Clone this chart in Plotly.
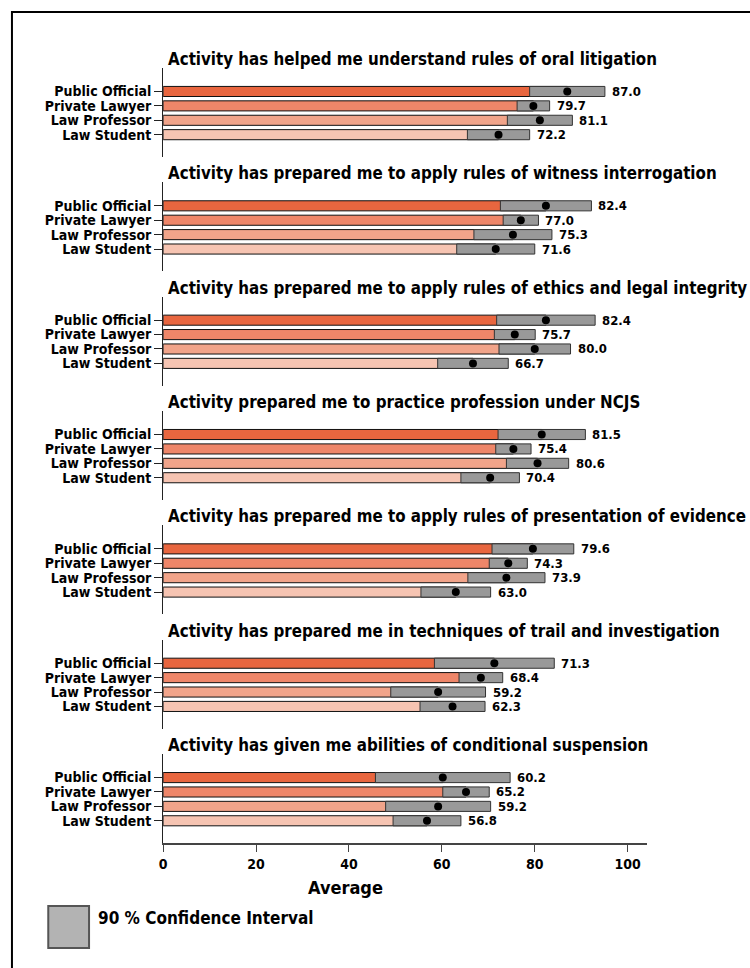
import plotly.graph_objects as go
from plotly.subplots import make_subplots

# Survey statements (one panel each)
questions = [
    "Activity has helped me understand rules of oral litigation",
    "Activity has prepared me to apply rules of witness interrogation",
    "Activity has prepared me to apply rules of ethics and legal integrity",
    "Activity prepared me to practice profession under NCJS",
    "Activity has prepared me to apply rules of presentation of evidence",
    "Activity has prepared me in techniques of trail and investigation",
    "Activity has given me abilities of conditional suspension",
]

groups = ["Public Official", "Private Lawyer", "Law Professor", "Law Student"]

# Average score per group, one value per statement
mean_public_official = [87.0, 82.4, 82.4, 81.5, 79.6, 71.3, 60.2]
mean_private_lawyer = [79.7, 77.0, 75.7, 75.4, 74.3, 68.4, 65.2]
mean_law_professor = [81.1, 75.3, 80.0, 80.6, 73.9, 59.2, 59.2]
mean_law_student = [72.2, 71.6, 66.7, 70.4, 63.0, 62.3, 56.8]

# Half-width of the 90 % confidence interval
ci_public_official = [8.1, 9.8, 10.6, 9.4, 8.8, 12.9, 14.5]
ci_private_lawyer = [3.5, 3.8, 4.4, 3.8, 4.1, 4.7, 5.0]
ci_law_professor = [7.0, 8.4, 7.7, 6.7, 8.3, 10.2, 11.3]
ci_law_student = [6.7, 8.4, 7.6, 6.3, 7.5, 7.0, 7.3]

x_ticks = [0, 20, 40, 60, 80, 100]

means = [mean_public_official, mean_private_lawyer, mean_law_professor, mean_law_student]
cis = [ci_public_official, ci_private_lawyer, ci_law_professor, ci_law_student]
colors = ["#E8663F", "#EE8669", "#F1A48A", "#F6C4B2"]

W, H = 750, 968
FONT = "DejaVu Sans Condensed, Liberation Sans Narrow, sans-serif"

n = len(questions)
fig = make_subplots(rows=n, cols=1)

# pixel layout helpers
x_left, x_right = 160, 646
panel_top0, panel_h, panel_step = 68, 89, 114.35


def px_x(p):
    return p / W


def px_y(p):
    return 1 - p / H


annotations = []
for i, q in enumerate(questions):
    row = i + 1
    m = [means[g][i] for g in range(4)]
    c = [cis[g][i] for g in range(4)]
    lo = [mv - cv for mv, cv in zip(m, c)]
    hi = [mv + cv for mv, cv in zip(m, c)]

    fig.add_trace(go.Bar(
        y=groups, x=m, orientation="h", width=0.7,
        marker=dict(color=colors, line=dict(color="#111111", width=1)),
        showlegend=False, hoverinfo="skip"), row=row, col=1)
    fig.add_trace(go.Bar(
        y=groups, x=[h - l for h, l in zip(hi, lo)], base=lo, orientation="h", width=0.7,
        marker=dict(color="#999999", line=dict(color="#333333", width=1)),
        showlegend=False, hoverinfo="skip"), row=row, col=1)
    fig.add_trace(go.Scatter(
        y=groups, x=m, mode="markers",
        marker=dict(color="black", size=8),
        showlegend=False, hoverinfo="skip"), row=row, col=1)

    xa = "x" if row == 1 else f"x{row}"
    ya = "y" if row == 1 else f"y{row}"
    for g in range(4):
        annotations.append(dict(
            x=hi[g], y=groups[g], xref=xa, yref=ya, text=f"{m[g]:.1f}",
            showarrow=False, xanchor="left", yanchor="middle", xshift=6,
            borderpad=0,
            font=dict(family=FONT, size=13, color="black", weight="bold")))

    top = panel_top0 + i * panel_step
    bottom = top + panel_h
    annotations.append(dict(
        x=px_x(164), y=px_y(top - 9), xref="paper", yref="paper", text=q,
        showarrow=False, xanchor="left", yanchor="middle", borderpad=0,
        font=dict(family=FONT, size=16.8, color="black", weight="bold")))

    fig.layout[f"yaxis{'' if row == 1 else row}"].update(
        domain=[px_y(bottom), px_y(top)],
        type="category",
        categoryorder="array", categoryarray=groups[::-1],
        tickmode="array", tickvals=groups, ticktext=groups,
        range=[-1.55, 4.63],
        showline=True, linecolor="#222222", linewidth=1,
        ticks="outside", ticklen=8, tickcolor="#222222",
        showgrid=False, zeroline=False,
        tickfont=dict(family=FONT, size=14, color="black", weight="bold"),
    )
    last = row == n
    fig.layout[f"xaxis{'' if row == 1 else row}"].update(
        domain=[px_x(x_left), px_x(x_right)],
        range=[0, 100 * (x_right - x_left) / (627 - x_left)],
        showgrid=False, zeroline=False,
        showline=last, linecolor="#444444", linewidth=1.5,
        ticks="outside" if last else "", ticklen=7, tickcolor="#444444",
        tickvals=x_ticks, showticklabels=last,
        tickfont=dict(family=FONT, size=14, color="black", weight="bold"),
    )

# x-axis caption and legend entry for the confidence interval box
annotations.append(dict(
    x=px_x(343), y=px_y(887), xref="paper", yref="paper",
    text="Average", showarrow=False, xanchor="center", yanchor="middle",
    font=dict(family=FONT, size=18, color="black", weight="bold")))
annotations.append(dict(
    x=px_x(93), y=px_y(918), xref="paper", yref="paper",
    text="90 % Confidence Interval", showarrow=False,
    xanchor="left", yanchor="middle", borderpad=0,
    font=dict(family=FONT, size=17, color="black", weight="bold")))

shapes = [
    dict(type="rect", xref="paper", yref="paper",
         x0=px_x(44.5), x1=px_x(85.5), y0=px_y(948), y1=px_y(906),
         fillcolor="#B3B3B3", line=dict(color="#555555", width=2)),
    # outer frame
    dict(type="rect", xref="paper", yref="paper",
         x0=px_x(8), x1=px_x(W + 10), y0=px_y(H + 10), y1=px_y(12),
         fillcolor="rgba(0,0,0,0)", line=dict(color="black", width=2)),
]

fig.update_layout(
    width=W, height=H,
    margin=dict(l=0, r=0, t=0, b=0),
    barmode="overlay",
    plot_bgcolor="white", paper_bgcolor="white",
    annotations=annotations, shapes=shapes,
    showlegend=False,
)

fig.write_html("out.html")
